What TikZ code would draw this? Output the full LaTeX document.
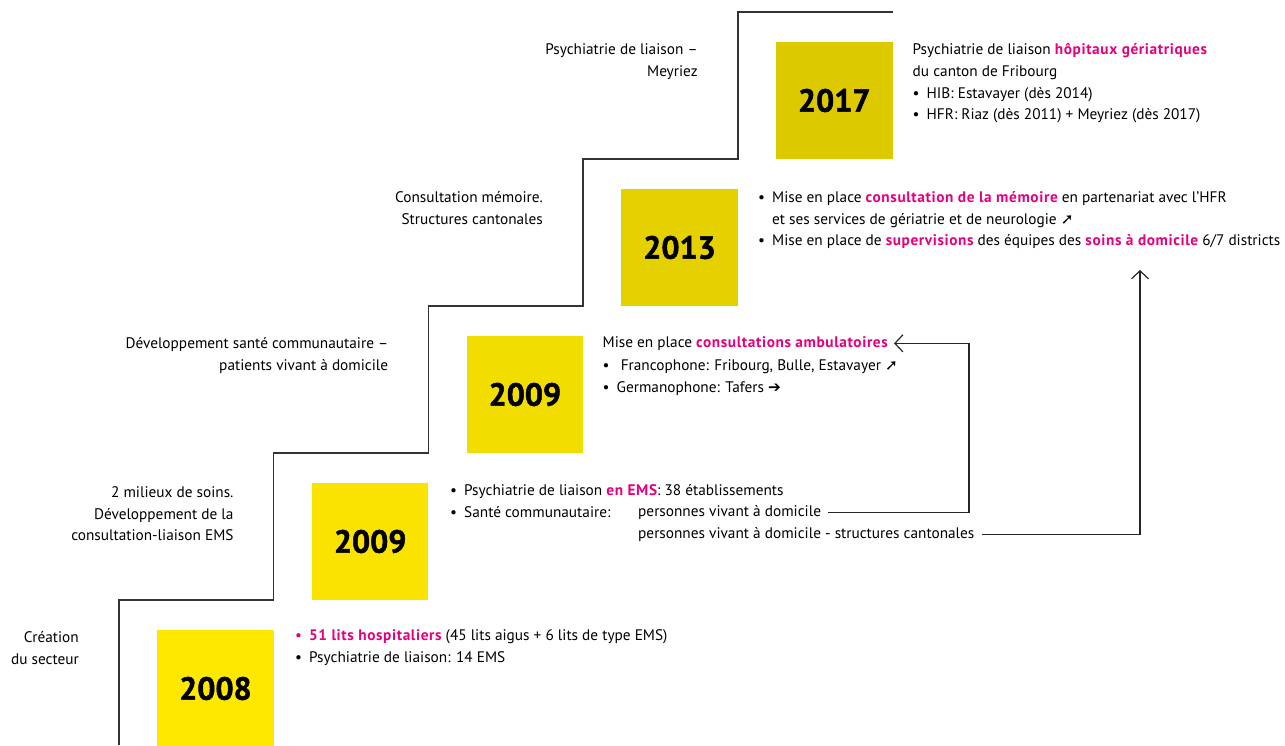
\documentclass[tikz,border=0pt]{standalone}
\usepackage{fontspec}
\setmainfont{PT Sans}
\newfontfamily\symfnt{DejaVu Sans}
\usetikzlibrary{arrows.meta}

\definecolor{accent}{HTML}{E5007D}
\definecolor{yelA}{HTML}{FFE800}
\definecolor{yelB}{HTML}{FAE300}
\definecolor{yelC}{HTML}{F2DD00}
\definecolor{yelD}{HTML}{E6D100}
\definecolor{yelE}{HTML}{DCC900}

\newcommand{\bodyfnt}{\fontsize{15.3}{21.7}\selectfont}
\newcommand{\yearfnt}{\fontsize{32}{32}\selectfont\bfseries\addfontfeatures{FakeBold=1.5}}
\newcommand{\hl}[1]{\textcolor{accent}{\bfseries\addfontfeatures{LetterSpace=4}#1}}
\newcommand{\itm}{\makebox[14pt][l]{\textbullet}}
\newcommand{\arrNE}{{\symfnt\bfseries ➚}}
\newcommand{\arrE}{{\symfnt\bfseries ➔}}

\tikzset{
  stair/.style={draw=black!80, line width=1.5pt},
  yearbox/.style={minimum size=116.5pt, inner sep=0pt, font=\yearfnt},
  lbl/.style={align=right, anchor=north east, inner sep=0pt, font=\bodyfnt, execute at begin node=\strut},
  desc/.style={align=left, anchor=north west, inner sep=0pt, font=\bodyfnt, execute at begin node=\strut},
  link/.style={draw=black!85, line width=1.2pt, -{Straight Barb[length=8pt,width=17pt]}},
}

\begin{document}
\begin{tikzpicture}[x=1pt, y=-1pt]
    \useasboundingbox (0,0) rectangle (1285,745);

    % staircase
    \draw[stair] (119,745) |- (273.7,600) |- (428.4,453) |- (583.1,306) |- (737.8,159) |- (892.5,12);

    % year boxes
    \foreach \k/\yr/\col in {0/2008/yelA,1/2009/yelB,2/2009/yelC,3/2013/yelD,4/2017/yelE}
        \node[yearbox, fill=\col] (box\k) at ({273.7+154.7*\k-58.25},{747-147*\k-58.5}) {\yr};

    % left labels
    \node[lbl] (lab0) at (79,631.3) {Création\\du secteur};
    \node[lbl] (lab1) at (233.7,486.3) {2 milieux de soins.\\Développement de la\\consultation-liaison EMS};
    \node[lbl] (lab2) at (388.4,337.3) {Développement santé communautaire –\\patients vivant à domicile};
    \node[lbl] (lab3) at (543.1,191.3) {Consultation mémoire.\\Structures cantonales};
    \node[lbl] (lab4) at (697.8,43.3) {Psychiatrie de liaison –\\Meyriez};

    % descriptions
    \node[desc] (txt0) at (295,629.3) {\makebox[14pt][l]{\textcolor{accent}{\textbullet}}\hl{51 lits hospitaliers} (45 lits aigus + 6 lits de type EMS)\\
        \itm Psychiatrie de liaison: 14 EMS};
    \node[desc] (txt1) at (450,484.3) {\itm Psychiatrie de liaison \hl{en EMS}: 38 établissements\\
        \itm Santé communautaire:};
    \node[desc] (pvd) at (638,501.5) {personnes vivant à domicile};
    \node[desc] (pvdsc) at (638,523.2) {personnes vivant à domicile - structures cantonales};
    \node[desc] (amb) at (602.5,332.3) {Mise en place \hl{consultations ambulatoires}};
    \node[desc] (txt2) at (602.5,359.5) {\itm\ Francophone: Fribourg, Bulle, Estavayer \arrNE\\
        \itm Germanophone: Tafers \arrE};
    \node[desc] (txt3) at (758,191.3) {\itm Mise en place \hl{consultation de la mémoire} en partenariat avec l’HFR\\
        \hspace*{14pt}et ses services de gériatrie et de neurologie \arrNE\\
        \itm Mise en place de \hl{supervisions} des équipes des \hl{soins à domicile} 6/7 districts};
    \node[desc] (txt4) at (912.5,43.3) {Psychiatrie de liaison \hl{hôpitaux gériatriques}\\
        du canton de Fribourg\\
        \itm HIB: Estavayer (dès 2014)\\
        \itm HFR: Riaz (dès 2011) + Meyriez (dès 2017)};

    % connectors
    \coordinate (bendA) at (969,0);
    \coordinate (upB) at (1140,270);
    \draw[link] ([xshift=7pt]pvd.east) -| (bendA |- amb.east) -- ([xshift=6pt]amb.east);
    \draw[link] ([xshift=7pt]pvdsc.east) -| (upB);
\end{tikzpicture}
\end{document}
